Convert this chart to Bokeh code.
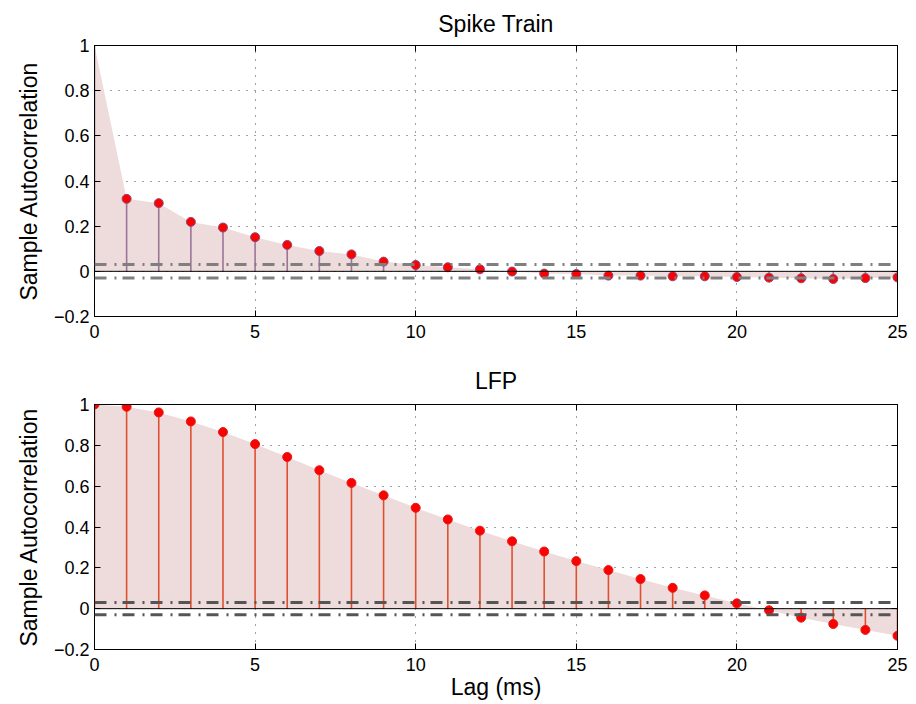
from bokeh.plotting import figure
from bokeh.layouts import column
from bokeh.models import FixedTicker, LinearAxis, Span, CustomJSTickFormatter, Range1d
from bokeh.embed import file_html
from bokeh.resources import INLINE

# ---------------- data ----------------
lags = list(range(26))
spike_acf = [1.0, 0.321, 0.302, 0.219, 0.194, 0.151, 0.117, 0.090, 0.075, 0.043,
             0.028, 0.018, 0.009, -0.001, -0.010, -0.012, -0.019, -0.019, -0.022,
             -0.022, -0.025, -0.028, -0.031, -0.034, -0.030, -0.027]
lfp_acf = [1.0, 0.989, 0.961, 0.917, 0.865, 0.806, 0.743, 0.678, 0.616, 0.555,
           0.494, 0.437, 0.382, 0.330, 0.280, 0.233, 0.189, 0.145, 0.102, 0.065,
           0.026, -0.008, -0.044, -0.075, -0.104, -0.133]
spike_bounds = [0.03, -0.03]
lfp_bounds = [0.03, -0.03]
x_ticks = [0, 5, 10, 15, 20, 25]
y_ticks = [-0.2, 0, 0.2, 0.4, 0.6, 0.8, 1]
y_tick_labels = ["\u22120.2", "0", "0.2", "0.4", "0.6", "0.8", "1"]
x_tick_labels = ["0", "5", "10", "15", "20", "25"]

FONT = "Liberation Sans"


def make_panel(title, vals, bounds, stem_color, mk_line, bound_color, first_marker,
               height, b_top, b_bottom, title_standoff, xlabel):
    p = figure(width=908, height=height, output_backend="svg", toolbar_location=None,
               x_range=Range1d(0, 25), y_range=Range1d(-0.2, 1),
               min_border_left=94, min_border_right=11,
               min_border_top=b_top, min_border_bottom=b_bottom)
    p.title.text = title
    p.title.align = "center"
    p.title.text_font = FONT
    p.title.text_font_size = "23px"
    p.title.text_font_style = "normal"
    p.title.text_color = "black"
    p.title.standoff = title_standoff

    p.outline_line_color = "black"
    p.outline_line_width = 1
    p.background_fill_color = "white"
    p.border_fill_color = "white"

    for ax in (p.xaxis[0], p.yaxis[0]):
        ax.major_tick_in = 6
        ax.major_tick_out = 0
        ax.minor_tick_line_color = None
        ax.axis_line_color = "black"
        ax.major_tick_line_color = "black"
        ax.major_label_text_font = FONT
        ax.major_label_text_font_size = "18px"
        ax.major_label_text_color = "black"
        ax.axis_label_text_font = FONT
        ax.axis_label_text_font_size = "23px"
        ax.axis_label_text_font_style = "normal"
        ax.axis_label_text_color = "black"
    p.yaxis.major_label_standoff = 5
    p.xaxis.major_label_standoff = 8
    p.xaxis.ticker = FixedTicker(ticks=x_ticks)
    p.yaxis.ticker = FixedTicker(ticks=y_ticks)
    p.xaxis.major_label_overrides = {t: l for t, l in zip(x_ticks, x_tick_labels)}
    p.yaxis.major_label_overrides = {t: l for t, l in zip(y_ticks, y_tick_labels)}
    p.yaxis.axis_label = "Sample Autocorrelation"
    p.yaxis.axis_label_standoff = 9
    if xlabel:
        p.xaxis.axis_label = xlabel
        p.xaxis.axis_label_standoff = 0

    blank = CustomJSTickFormatter(code="return ''")
    for loc, tk in (("right", y_ticks), ("above", x_ticks)):
        ax = LinearAxis(ticker=FixedTicker(ticks=tk), formatter=blank)
        ax.major_tick_in = 6
        ax.major_tick_out = 0
        ax.minor_tick_line_color = None
        ax.major_label_standoff = 0
        ax.major_label_text_font_size = "0px"
        ax.axis_line_color = "black"
        p.add_layout(ax, loc)

    p.xgrid.ticker = FixedTicker(ticks=x_ticks)
    p.ygrid.ticker = FixedTicker(ticks=y_ticks)
    p.grid.grid_line_color = "#444444"
    p.grid.grid_line_dash = "1 7"
    p.grid.grid_line_width = 1

    # filled area between curve and zero
    p.varea(x=lags, y1=[0] * len(lags), y2=vals, fill_color="#eedcdc")

    # confidence bounds
    for b in bounds:
        p.add_layout(Span(location=b, dimension="width", line_color=bound_color,
                          line_width=3, line_dash="12 8 2 6"))
    # baseline
    p.add_layout(Span(location=0, dimension="width", line_color="black", line_width=1))

    # stems
    p.segment(x0=lags, y0=[0] * len(lags), x1=lags, y1=vals,
              line_color=stem_color, line_width=1.6)
    # markers
    s = 0 if first_marker else 1
    p.scatter(x=lags[s:], y=vals[s:], size=9, fill_color="#ff0000",
              line_color=mk_line, line_width=1)
    return p


p1 = make_panel("Spike Train", spike_acf, spike_bounds, "#9c7596", "#8a4a80",
                "#7f7f7f", False, 348, 45, 32, 17, None)
p2 = make_panel("LFP", lfp_acf, lfp_bounds, "#e0502e", "#e41a1a",
                "#555555", True, 356, 56, 55, 21, "Lag (ms)")

layout = column(p1, p2, spacing=0)
open("out.html", "w").write(file_html(layout, INLINE))
